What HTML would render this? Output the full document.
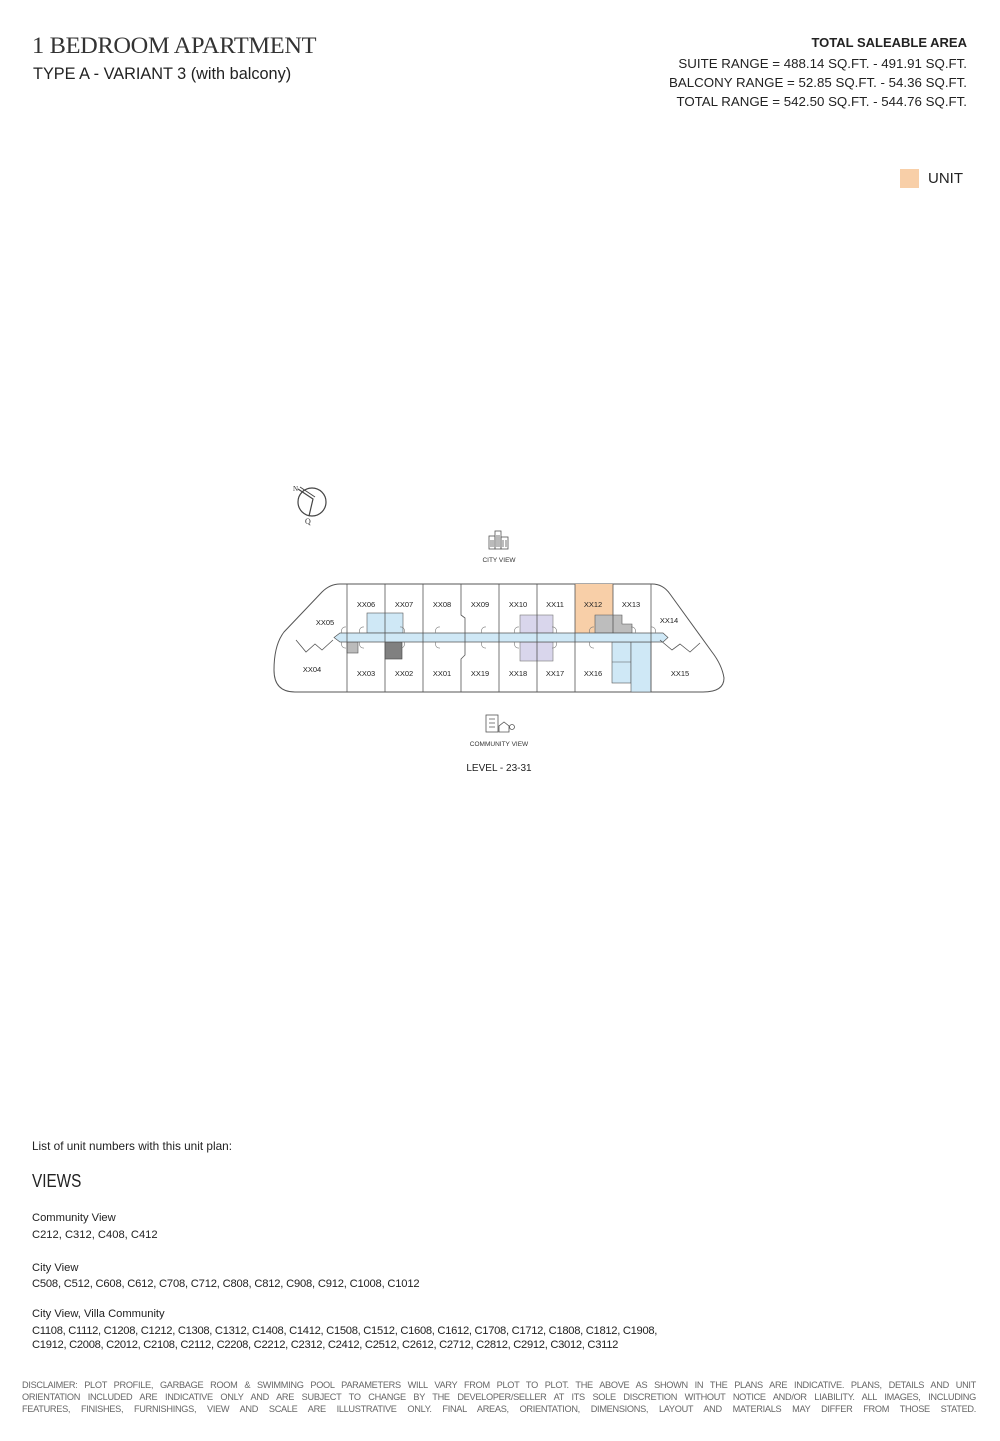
<!DOCTYPE html>
<html><head><meta charset="utf-8"><style>
body{margin:0;width:1000px;height:1441px;background:#fff;position:relative;font-family:"Liberation Sans",sans-serif;color:#222;overflow:hidden}
.t{position:absolute;white-space:nowrap;line-height:1}
.r{right:33px;text-align:right;font-size:13.3px}
.s{font-size:11.2px;left:32px}
.d{position:absolute;left:22px;width:954px;font-size:9.2px;line-height:12px;color:#666;text-align:justify;text-align-last:justify;white-space:nowrap;letter-spacing:-0.3px}
</style></head><body>
<div class="t" style="left:32px;top:34px;font-family:'Liberation Serif',serif;font-size:23px;letter-spacing:-0.3px;color:#333;transform:scaleX(1.06);transform-origin:left">1 BEDROOM APARTMENT</div>
<div class="t" style="left:33px;top:66px;font-size:16.3px">TYPE A - VARIANT 3 (with balcony)</div>
<div class="t r" style="top:36px;font-weight:bold;font-size:13px">TOTAL SALEABLE AREA</div>
<div class="t r" style="top:57px">SUITE RANGE = 488.14 SQ.FT. - 491.91 SQ.FT.</div>
<div class="t r" style="top:76px">BALCONY RANGE = 52.85 SQ.FT. - 54.36 SQ.FT.</div>
<div class="t r" style="top:95px">TOTAL RANGE = 542.50 SQ.FT. - 544.76 SQ.FT.</div>
<div style="position:absolute;left:900px;top:169px;width:19px;height:19px;background:#f8cfa8"></div>
<div class="t" style="left:928px;top:171px;font-size:15px">UNIT</div>

<svg style="position:absolute;left:0;top:0" width="1000" height="1441" font-family="Liberation Sans, sans-serif">
 <circle cx="312" cy="502" r="14" fill="none" stroke="#444" stroke-width="1.2"/>
 <path d="M298 489 L313 499 L309 516" fill="none" stroke="#444" stroke-width="1.2"/>
 <path d="M300 487 L315 497" fill="none" stroke="#444" stroke-width="1"/>
 <text x="293" y="491" font-size="7" font-family="Liberation Serif, serif" fill="#333">N</text>
 <text x="305" y="524" font-size="8" font-family="Liberation Serif, serif" fill="#333">Q</text>
 <g fill="none" stroke="#555" stroke-width="0.8">
  <rect x="489" y="536" width="6" height="13"/><rect x="495" y="531" width="6" height="18"/><rect x="501" y="537" width="7" height="12"/>
  <path d="M491 540v7M493 540v7M497 535v12M499 535v12M503 540v7M506 540v7"/>
 </g>
 <text x="499" y="562" font-size="6.5" text-anchor="middle" fill="#333">CITY VIEW</text>
 <g fill="none" stroke="#555" stroke-width="0.8">
  <rect x="486" y="715" width="12" height="17"/><path d="M489 719h6M489 723h6M489 727h6"/>
  <path d="M499 732v-6l5-4 5 4v6z"/><circle cx="512" cy="727" r="2.5"/>
 </g>
 <text x="499" y="746" font-size="6.5" text-anchor="middle" fill="#333">COMMUNITY VIEW</text>
 <text x="499" y="771" font-size="10" text-anchor="middle" fill="#222">LEVEL - 23-31</text>

 <path d="M347 584 L340 584 Q330 584 322 592 L284 632 Q274 645 274 670 Q274 692 295 692 L703 692 Q724 692 724 678 Q722 665 712 652 L670 594 Q663 584 652 584 Z" fill="#fff" stroke="#555" stroke-width="1"/>
 <rect x="575" y="584" width="38" height="49" fill="#f8cfa8"/>
 <rect x="367" y="613" width="36" height="20" fill="#cfe8f6" stroke="#555" stroke-width="0.6"/>
 <rect x="520" y="615" width="33" height="18" fill="#d9d6ec" stroke="#777" stroke-width="0.6"/>
 <rect x="520" y="642" width="33" height="19" fill="#d9d6ec" stroke="#777" stroke-width="0.6"/>
 <path d="M595 633 V615 H622 V624 H632 V633 Z" fill="#bdbdbd" stroke="#555" stroke-width="0.6"/>
 <rect x="612" y="642" width="19" height="41" fill="#cfe8f6" stroke="#555" stroke-width="0.6"/>
 <rect x="631" y="642" width="20" height="50" fill="#cfe8f6" stroke="#555" stroke-width="0.6"/>
 <line x1="612" y1="662" x2="631" y2="662" stroke="#555" stroke-width="0.6"/>
 <rect x="385" y="642" width="17" height="17" fill="#808080" stroke="#444" stroke-width="0.6"/>
 <rect x="347" y="642" width="11" height="11" fill="#bbb" stroke="#555" stroke-width="0.6"/>
 <path d="M334 637.5 L340 633 H663 L668 637.5 L663 642 H340 Z" fill="#cfe8f6" stroke="#555" stroke-width="0.7"/>
 <g stroke="#555" stroke-width="0.8">
  <line x1="347" y1="584" x2="347" y2="692"/><line x1="385" y1="584" x2="385" y2="692"/>
  <line x1="423" y1="584" x2="423" y2="692"/>
  <path d="M461 584 V615 L465 618 V655 L461 659 V692" fill="none"/>
  <line x1="499" y1="584" x2="499" y2="692"/><line x1="537" y1="584" x2="537" y2="692"/>
  <line x1="575" y1="584" x2="575" y2="692"/><line x1="613" y1="584" x2="613" y2="633"/>
  <line x1="651" y1="584" x2="651" y2="692"/>
  <path d="M296 640 L306 652 L315 644 L322 650 L333 640" fill="none"/>
  <path d="M660 640 L672 650 L680 644 L690 652 L700 643" fill="none"/>
 </g>
 <g fill="none" stroke="#777" stroke-width="0.6">
  <path d="M342 633 a4 4 0 0 1 4 -6M360 633 a4 4 0 0 1 4 -6M404 633 a4 4 0 0 0 -4 -6M436 633 a4 4 0 0 1 4 -6M482 633 a4 4 0 0 1 4 -6M515 633 a4 4 0 0 1 4 -6M556 633 a4 4 0 0 0 -4 -6M590 633 a4 4 0 0 1 4 -6M635 633 a4 4 0 0 0 -4 -6M655 633 a4 4 0 0 0 -4 -6"/>
  <path d="M342 642 a4 4 0 0 0 4 6M360 642 a4 4 0 0 0 4 6M404 642 a4 4 0 0 1 -4 6M436 642 a4 4 0 0 0 4 6M482 642 a4 4 0 0 0 4 6M515 642 a4 4 0 0 0 4 6M556 642 a4 4 0 0 1 -4 6M590 642 a4 4 0 0 0 4 6"/>
 </g>
 <g font-size="7.5" text-anchor="middle" fill="#222">
  <text x="366" y="607">XX06</text><text x="404" y="607">XX07</text><text x="442" y="607">XX08</text>
  <text x="480" y="607">XX09</text><text x="518" y="607">XX10</text><text x="555" y="607">XX11</text>
  <text x="593" y="607">XX12</text><text x="631" y="607">XX13</text>
  <text x="325" y="625">XX05</text><text x="669" y="623">XX14</text>
  <text x="312" y="672">XX04</text><text x="366" y="676">XX03</text><text x="404" y="676">XX02</text>
  <text x="442" y="676">XX01</text><text x="480" y="676">XX19</text><text x="518" y="676">XX18</text>
  <text x="555" y="676">XX17</text><text x="593" y="676">XX16</text><text x="680" y="676">XX15</text>
 </g>
</svg>

<div class="t" style="left:32px;top:1141px;font-size:11.8px">List of unit numbers with this unit plan:</div>
<div class="t" style="left:32px;top:1172px;font-size:18px;transform:scaleX(0.85);transform-origin:left">VIEWS</div>
<div class="t s" style="top:1213px">Community View</div>
<div class="t s" style="top:1230px">C212, C312, C408, C412</div>
<div class="t s" style="top:1263px">City View</div>
<div class="t s" style="top:1279px;letter-spacing:-0.2px">C508, C512, C608, C612, C708, C712, C808, C812, C908, C912, C1008, C1012</div>
<div class="t s" style="top:1309px">City View, Villa Community</div>
<div class="t s" style="top:1326px;letter-spacing:-0.3px">C1108, C1112, C1208, C1212, C1308, C1312, C1408, C1412, C1508, C1512, C1608, C1612, C1708, C1712, C1808, C1812, C1908,</div>
<div class="t s" style="top:1340px;letter-spacing:-0.3px">C1912, C2008, C2012, C2108, C2112, C2208, C2212, C2312, C2412, C2512, C2612, C2712, C2812, C2912, C3012, C3112</div>
<div class="d" style="top:1379px">DISCLAIMER: PLOT PROFILE, GARBAGE ROOM &amp; SWIMMING POOL PARAMETERS WILL VARY FROM PLOT TO PLOT. THE ABOVE AS SHOWN IN THE PLANS ARE INDICATIVE. PLANS, DETAILS AND UNIT</div>
<div class="d" style="top:1391px">ORIENTATION INCLUDED ARE INDICATIVE ONLY AND ARE SUBJECT TO CHANGE BY THE DEVELOPER/SELLER AT ITS SOLE DISCRETION WITHOUT NOTICE AND/OR LIABILITY. ALL IMAGES, INCLUDING</div>
<div class="d" style="top:1403px">FEATURES, FINISHES, FURNISHINGS, VIEW AND SCALE ARE ILLUSTRATIVE ONLY. FINAL AREAS, ORIENTATION, DIMENSIONS, LAYOUT AND MATERIALS MAY DIFFER FROM THOSE STATED.</div>
</body></html>
